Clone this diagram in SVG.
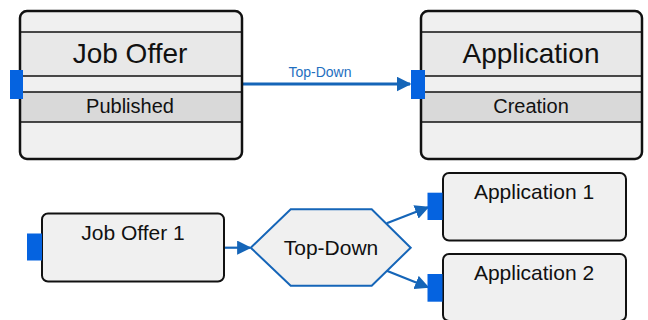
<svg xmlns="http://www.w3.org/2000/svg" width="648" height="320" viewBox="0 0 648 320">
<style>
.box{fill:#f0f0f0;stroke:#111;stroke-width:2.5}
.sbox{fill:#f0f0f0;stroke:#111;stroke-width:2}
.band1{fill:#e8e8e8}
.band2{fill:#d9d9d9}
.sep{stroke:#111;stroke-width:1.5}
.port{fill:#0563e0}
.t{font-family:"Liberation Sans",Arial,sans-serif;fill:#111;text-anchor:middle}
.conn{stroke:#1565b8;stroke-width:3;fill:none}
.conn2{stroke:#1565b8;stroke-width:2.2;fill:none}
.lbl{font-family:"Liberation Sans",Arial,sans-serif;fill:#1f6fc0;text-anchor:middle;font-size:14px}
</style>
<defs>
<marker id="ah" viewBox="0 0 10 10" refX="9" refY="5" markerWidth="5" markerHeight="5" orient="auto" markerUnits="strokeWidth"><path d="M0,0 L10,5 L0,10 z" fill="#1565b8"/></marker>
<marker id="ah2" viewBox="0 0 10 10" refX="9" refY="5" markerWidth="6.5" markerHeight="6.5" orient="auto" markerUnits="strokeWidth"><path d="M0,0 L10,5 L0,10 z" fill="#1565b8"/></marker>
<clipPath id="c1"><rect x="20" y="11" width="222" height="148" rx="7"/></clipPath>
<clipPath id="c2"><rect x="421" y="11" width="221" height="148" rx="7"/></clipPath>
</defs>
<g id="connectors">
<line class="conn" x1="242" y1="84" x2="410" y2="84" marker-end="url(#ah)"/>
<text class="lbl" x="320" y="77">Top-Down</text>
<line class="conn2" x1="224" y1="247.7" x2="250" y2="247.7" marker-end="url(#ah2)"/>
<line class="conn2" x1="386.7" y1="223.3" x2="428" y2="207.3" marker-end="url(#ah2)"/>
<line class="conn2" x1="386.7" y1="270.7" x2="428" y2="287.3" marker-end="url(#ah2)"/>
</g>
<g id="job-offer">
<rect x="20" y="11" width="222" height="148" rx="7" fill="#f0f0f0"/>
<g clip-path="url(#c1)">
<rect class="band1" x="20" y="32" width="222" height="44"/>
<rect class="band2" x="20" y="92" width="222" height="30"/>
</g>
<line class="sep" x1="20" y1="32" x2="242" y2="32"/>
<line class="sep" x1="20" y1="76" x2="242" y2="76"/>
<line class="sep" x1="20" y1="92" x2="242" y2="92"/>
<line class="sep" x1="20" y1="122" x2="242" y2="122"/>
<rect x="20" y="11" width="222" height="148" rx="7" fill="none" stroke="#111" stroke-width="2.5"/>
<text class="t" x="130" y="63" font-size="28">Job Offer</text>
<text class="t" x="130" y="113" font-size="20">Published</text>
<rect class="port" x="10" y="70" width="13" height="29"/>
</g>
<g id="application">
<rect x="421" y="11" width="221" height="148" rx="7" fill="#f0f0f0"/>
<g clip-path="url(#c2)">
<rect class="band1" x="421" y="32" width="221" height="44"/>
<rect class="band2" x="421" y="92" width="221" height="30"/>
</g>
<line class="sep" x1="421" y1="32" x2="642" y2="32"/>
<line class="sep" x1="421" y1="76" x2="642" y2="76"/>
<line class="sep" x1="421" y1="92" x2="642" y2="92"/>
<line class="sep" x1="421" y1="122" x2="642" y2="122"/>
<rect x="421" y="11" width="221" height="148" rx="7" fill="none" stroke="#111" stroke-width="2.5"/>
<text class="t" x="531" y="63" font-size="28">Application</text>
<text class="t" x="531" y="113" font-size="20">Creation</text>
<rect class="port" x="411" y="70" width="14" height="29"/>
</g>
<g id="job-offer-1">
<rect class="sbox" x="42" y="213.5" width="182" height="68" rx="6"/>
<text class="t" x="133" y="240" font-size="21">Job Offer 1</text>
<rect class="port" x="27" y="233.5" width="15" height="27"/>
</g>
<g id="top-down">
<polygon points="250.7,247.7 290.7,209.3 371.7,209.3 410.7,247.7 371.7,285.7 290.7,285.7" fill="#f0f0f0" stroke="#1565b8" stroke-width="2"/>
<text class="t" x="331" y="255" font-size="21">Top-Down</text>
</g>
<g id="application-1">
<rect class="sbox" x="443" y="173" width="183" height="67.5" rx="6"/>
<text class="t" x="534" y="199" font-size="21">Application 1</text>
<rect class="port" x="427.5" y="192.7" width="15" height="27.3"/>
</g>
<g id="application-2">
<rect class="sbox" x="443" y="254" width="183" height="67" rx="6"/>
<text class="t" x="534" y="280" font-size="21">Application 2</text>
<rect class="port" x="427.5" y="274" width="15" height="27.7"/>
</g>
</svg>
